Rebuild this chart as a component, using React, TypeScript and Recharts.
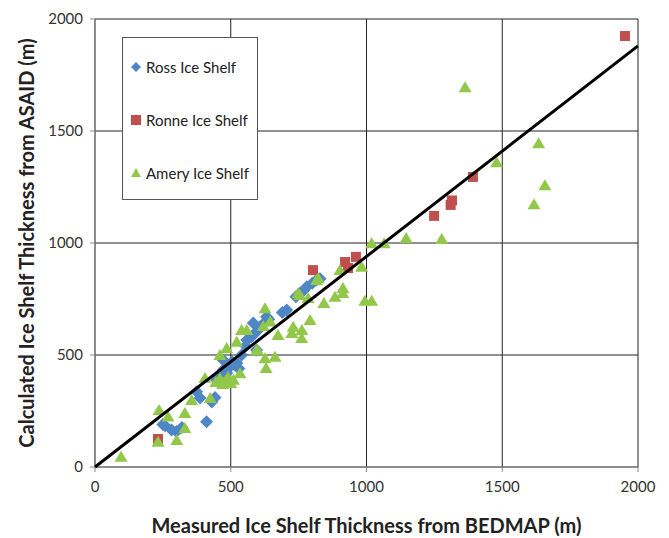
import { ScatterChart, Scatter, XAxis, YAxis, CartesianGrid, Label } from "recharts";

const rossData = [
  [250, 190], [258, 184], [282, 165], [300, 158], [320, 176], [411, 202], [374, 336], [387, 308],
  [430, 290], [442, 310], [448, 388], [460, 410], [472, 433], [472, 478], [485, 420], [497, 448],
  [505, 470], [515, 455], [522, 464], [530, 440], [540, 500], [555, 540], [559, 567], [575, 580],
  [583, 589], [583, 643], [595, 522], [600, 610], [608, 626], [620, 640], [632, 671], [640, 660],
  [690, 690], [706, 701], [740, 760], [755, 776], [770, 790], [780, 805], [800, 820], [816, 835],
  [829, 840],
].map(([x, y]) => ({ x, y }));

const ronneData = [
  [232, 125], [803, 879], [921, 915], [932, 888], [961, 938], [1249, 1121], [1310, 1170],
  [1315, 1190], [1392, 1295], [1952, 1924],
].map(([x, y]) => ({ x, y }));

const ameryData = [
  [96, 46], [232, 113], [236, 254], [269, 225], [301, 121], [331, 241], [331, 174], [356, 299],
  [405, 397], [424, 308], [445, 380], [460, 395], [470, 370], [480, 385], [490, 402], [500, 375],
  [510, 390], [460, 500], [485, 531], [522, 559], [540, 612], [559, 612], [534, 419], [595, 522],
  [600, 520], [620, 630], [626, 709], [626, 486], [663, 492], [630, 442], [645, 649], [674, 589],
  [725, 598], [730, 626], [762, 612], [761, 576], [792, 656], [755, 768], [748, 777], [785, 754],
  [822, 843], [816, 835], [843, 732], [884, 760], [902, 879], [913, 799], [913, 777], [982, 894],
  [994, 742], [1019, 742], [1019, 999], [1065, 999], [1146, 1022], [1277, 1018], [1363, 1695],
  [1479, 1360], [1617, 1173], [1634, 1445], [1657, 1258],
].map(([x, y]) => ({ x, y }));

const fitLine = [
  { x: 0, y: 0 },
  { x: 2000, y: 1880 },
];

const ticks = [0, 500, 1000, 1500, 2000];

const BLUE = "#4F86C6";
const RED = "#C0504D";
const GREEN = "#92C84A";
const FONT = "Lato, 'Open Sans', sans-serif";

const Diamond = ({ cx, cy }: any) => (
  <path d={`M${cx},${cy - 6.5}L${cx + 6.5},${cy}L${cx},${cy + 6.5}L${cx - 6.5},${cy}Z`} fill={BLUE} />
);
const Square = ({ cx, cy }: any) => (
  <rect x={cx - 5} y={cy - 5} width={10} height={10} fill={RED} />
);
const Triangle = ({ cx, cy }: any) => (
  <path d={`M${cx},${cy - 6}L${cx + 6.5},${cy + 5}L${cx - 6.5},${cy + 5}Z`} fill={GREEN} />
);

const legendItems = [
  { name: "Ross Ice Shelf", mark: "diamond" },
  { name: "Ronne Ice Shelf", mark: "square" },
  { name: "Amery Ice Shelf", mark: "triangle" },
];

const LegendBox = () => (
  <div
    style={{
      position: "absolute",
      left: 114,
      top: 29,
      width: 136,
      height: 163,
      border: "1px solid #555",
      background: "#fff",
      fontFamily: FONT,
      fontSize: 15,
      color: "#222",
      boxSizing: "border-box",
      paddingTop: 2,
    }}
  >
    {legendItems.map((it) => (
      <div key={it.name} style={{ display: "flex", alignItems: "center", height: 53 }}>
        <svg width={14} height={14} style={{ marginLeft: 6, marginRight: 3 }}>
          {it.mark === "diamond" && <path d="M7,2L12,7L7,12L2,7Z" fill={BLUE} />}
          {it.mark === "square" && <rect x={2} y={2} width={10} height={10} fill={RED} />}
          {it.mark === "triangle" && <path d="M7,2L12,11L2,11Z" fill={GREEN} />}
        </svg>
        <span>{it.name}</span>
      </div>
    ))}
  </div>
);

export default function App() {
  return (
    <div style={{ position: "relative", width: 653, height: 530 }}>
      <ScatterChart
        width={653}
        height={530}
        margin={{ top: 11, right: 23, bottom: 3, left: 0 }}
        style={{ fontFamily: FONT }}
      >
        <CartesianGrid stroke="#222" strokeWidth={1} />
        <XAxis
          type="number"
          dataKey="x"
          domain={[0, 2000]}
          ticks={ticks}
          height={68}
          stroke="#888"
          tickSize={5}
          tickMargin={9}
          tick={{ fill: "#333", fontSize: 15, fontFamily: FONT }}
        >
          <Label
            value="Measured Ice Shelf Thickness from BEDMAP (m)"
            position="insideBottom"
            offset={2}
            style={{ fill: "#222", fontSize: 20, fontWeight: "bold", fontFamily: FONT }}
          />
        </XAxis>
        <YAxis
          type="number"
          dataKey="y"
          domain={[0, 2000]}
          ticks={ticks}
          width={87}
          stroke="#888"
          tickSize={5}
          tickMargin={7}
          tick={{ fill: "#333", fontSize: 15, fontFamily: FONT }}
        >
          <Label
            value="Calculated Ice Shelf Thickness from ASAID (m)"
            angle={-90}
            position="insideLeft"
            offset={19}
            style={{ textAnchor: "middle", fill: "#222", fontSize: 20, fontWeight: "bold", fontFamily: FONT }}
          />
        </YAxis>
        <Scatter name="Ross Ice Shelf" data={rossData} shape={<Diamond />} isAnimationActive={false} />
        <Scatter name="Ronne Ice Shelf" data={ronneData} shape={<Square />} isAnimationActive={false} />
        <Scatter name="Amery Ice Shelf" data={ameryData} shape={<Triangle />} isAnimationActive={false} />
        <Scatter
          name="fit"
          data={fitLine}
          line={{ stroke: "#000", strokeWidth: 3 }}
          shape={() => <g />}
          legendType="none"
          isAnimationActive={false}
        />
      </ScatterChart>
      <LegendBox />
    </div>
  );
}
